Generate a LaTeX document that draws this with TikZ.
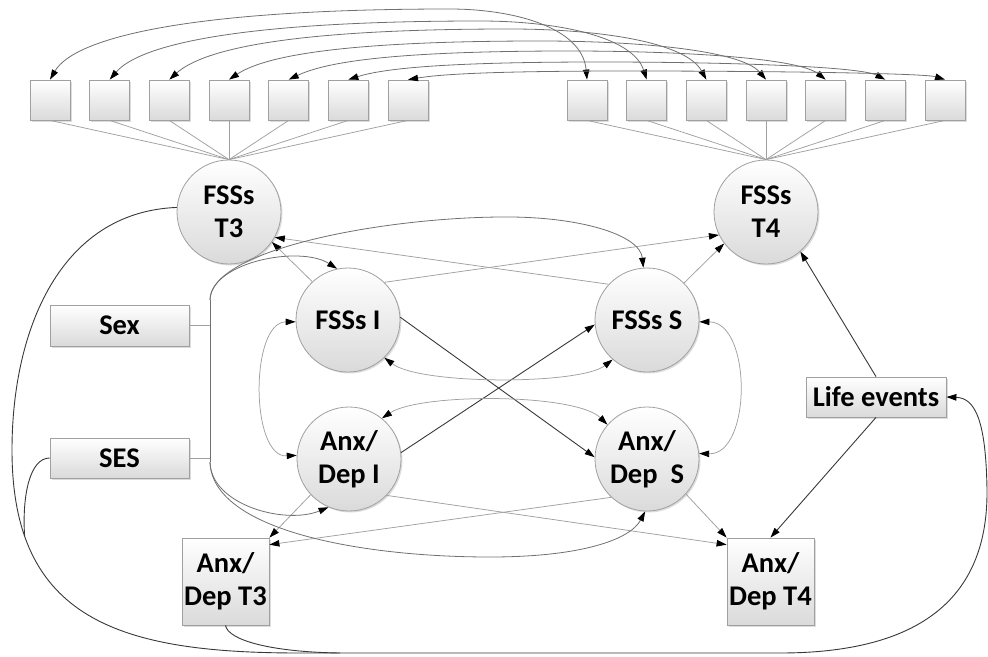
\documentclass[tikz,border=0pt]{standalone}
\usepackage{fontspec}
\setmainfont{Carlito}
\usetikzlibrary{arrows.meta,shadows}
\definecolor{boxline}{HTML}{A0A0A0}
\definecolor{boxfill}{HTML}{DADADA}
\definecolor{liteline}{HTML}{A0A0A0}
\definecolor{midline}{HTML}{707070}
\definecolor{darkline}{HTML}{383838}
\begin{document}
\begin{tikzpicture}[x=1pt,y=-1pt,
  every node/.style={font=\fontsize{28.5}{33}\selectfont\bfseries},
  shadebox/.style={draw=boxline, line width=0.8pt, top color=white, bottom color=boxfill,
     drop shadow={shadow xshift=1.5pt, shadow yshift=-1.5pt, fill=black!30, opacity=0.45}},
  latent/.style={circle, shadebox, minimum size=104pt, inner sep=0pt, align=center},
  indic/.style={rectangle, shadebox, minimum size=40pt, inner sep=0pt},
  obsbox/.style={rectangle, shadebox, inner sep=0pt, align=center},
  lite/.style={draw=liteline, line width=0.75pt},
  mid/.style={draw=midline, line width=0.8pt},
  dark/.style={draw=darkline, line width=0.9pt},
  arrowend/.style={-{Triangle[length=10pt,width=6.5pt,color=black]}},
  arrowboth/.style={{Triangle[length=10pt,width=6.5pt,color=black]}-{Triangle[length=10pt,width=6.5pt,color=black]}},
]
\useasboundingbox (0,0) rectangle (988,656);

% indicator boxes
\foreach \i/\x in {1/50,2/109.7,3/169.3,4/229,5/288.7,6/348.3,7/408}{
  \node[indic] (L\i) at (\x,100) {};
}
\foreach \i/\x in {1/587,2/646.7,3/706.3,4/766,5/825.7,6/885.3,7/945}{
  \node[indic] (R\i) at (\x,100) {};
}

% latent factors
\node[latent] (T3) at (229,212) {FSSs\\T3};
\node[latent] (T4) at (766,212) {FSSs\\T4};
\node[latent] (FI) at (348,320) {FSSs I};
\node[latent] (FS) at (647,320) {FSSs S};
\node[latent] (AI) at (349,459) {Anx/\\Dep I};
\node[latent] (AS) at (647,459) {Anx/\\Dep\ \ S};

% observed boxes
\node[obsbox, minimum width=87pt, minimum height=87pt] (AT3) at (225.5,581.5) {Anx/\\Dep T3};
\node[obsbox, minimum width=87pt, minimum height=87pt] (AT4) at (770.5,581.5) {Anx/\\Dep T4};
\node[obsbox, minimum width=140pt, minimum height=40pt] (Life) at (876,397) {Life events};
\node[obsbox, minimum width=139pt, minimum height=41pt] (Sex) at (119.5,325.5) {Sex};
\node[obsbox, minimum width=139pt, minimum height=40pt] (SES) at (119.5,458) {SES};

% loadings
\foreach \i in {1,...,7}{
  \draw[lite] (L\i.south) -- (T3.north);
  \draw[lite] (R\i.south) -- (T4.north);
}

% residual correlations between indicators
\draw[mid,arrowboth] (L1.north) .. controls (74.6,37.4) and (190,9) .. (450,9) .. controls (511.7,9) and (582.3,26.7) .. (R1.north);
\draw[mid,arrowboth] (L2.north) .. controls (139.7,44.6) and (239.5,21) .. (480,21) .. controls (555.2,21) and (632.6,35.8) .. (R2.north);
\draw[mid,arrowboth] (L3.north) .. controls (203,49.4) and (288.4,29) .. (510,29) .. controls (598.2,29) and (685.7,41.8) .. (R3.north);
\draw[mid,arrowboth] (L4.north) .. controls (263.7,56.6) and (337.9,41) .. (540,41) .. controls (641.7,41) and (741.4,50.7) .. (R4.north);
\draw[mid,arrowboth] (L5.north) .. controls (324.7,62.6) and (387.4,51) .. (570,51) .. controls (685.2,51) and (798.2,58.3) .. (R5.north);
\draw[mid,arrowboth] (L6.north) .. controls (381.3,69.2) and (436.2,62) .. (600,62) .. controls (728.3,62) and (859.6,66.5) .. (R6.north);
\draw[mid,arrowboth] (L7.north) .. controls (438.5,74.6) and (485.7,71) .. (630,71) .. controls (771.8,71) and (924.3,73.3) .. (R7.north);

% structural paths
\draw[lite,arrowend] (FI.133) -- (T3.-35);
\draw[lite,arrowend] (FS.137) -- (T3.-29);
\draw[lite,arrowend] (FI.46) -- (T4.206);
\draw[lite,arrowend] (FS.45) -- (T4.217);
\draw[dark,arrowend] (FI.3) -- (AS.178);
\draw[dark,arrowend] (AI.7) -- (FS.185);
\draw[lite,arrowboth] (FI.182) .. controls (250,322) and (250,458) .. (AI.176);
\draw[lite,arrowboth] (FS.-2) .. controls (752,322) and (752,455) .. (AS.6);
\draw[lite,arrowboth] (FI.-46) .. controls (420,385) and (580,385) .. (FS.229);
\draw[lite,arrowboth] (AI.51) .. controls (420,393) and (575,393) .. (AS.139);
\draw[lite,arrowend] (AI.223) -- (AT3.north east);
\draw[lite,arrowend] (AS.227) -- (AT3.40);
\draw[lite,arrowend] (AI.-44) -- (AT4.140);
\draw[lite,arrowend] (AS.-42) -- (AT4.north west);
\draw[dark,arrowend] (Life.north) -- (T4.-49);
\draw[dark,arrowend] (Life.south) -- (AT4.north);

% covariates trunk
\coordinate (jt) at (210,300);
\coordinate (jb) at (210,462);
\coordinate (jsex) at (210,325.5);
\coordinate (jses) at (210,458);
\draw[lite] (Sex.east) -- (jsex);
\draw[lite] (SES.east) -- (jses);
\draw[mid] (jt) -- (jb);
\draw[mid,arrowend] (jt) .. controls (211,262) and (300,245) .. (FI.102);
\draw[mid,arrowend] (jt) .. controls (210,250) and (380,218) .. (500,217) .. controls (580,216) and (640,235) .. (FS.94);
\draw[mid,arrowend] (jb) .. controls (211,505) and (285,525) .. (AI.-113);
\draw[mid,arrowend] (jb) .. controls (212,530) and (360,557) .. (490,557) .. controls (580,557) and (630,540) .. (AS.-92);

% outer paths to life events
\draw[dark,arrowend] (T3.175) .. controls (60,212) and (12,330) .. (12,450) .. controls (12,620) and (120,653) .. (300,653) -- (780,653) .. controls (930,653) and (988,590) .. (987,490) .. controls (986,420) and (975,398) .. (Life.east);
\coordinate (m1) at (24.6,536);
\draw[dark] (SES.west) .. controls (30,458) and (22,495) .. (m1);
\coordinate (m2) at (340,653);
\draw[dark] (AT3.south) .. controls (228,640) and (270,652) .. (m2);
\end{tikzpicture}
\end{document}
